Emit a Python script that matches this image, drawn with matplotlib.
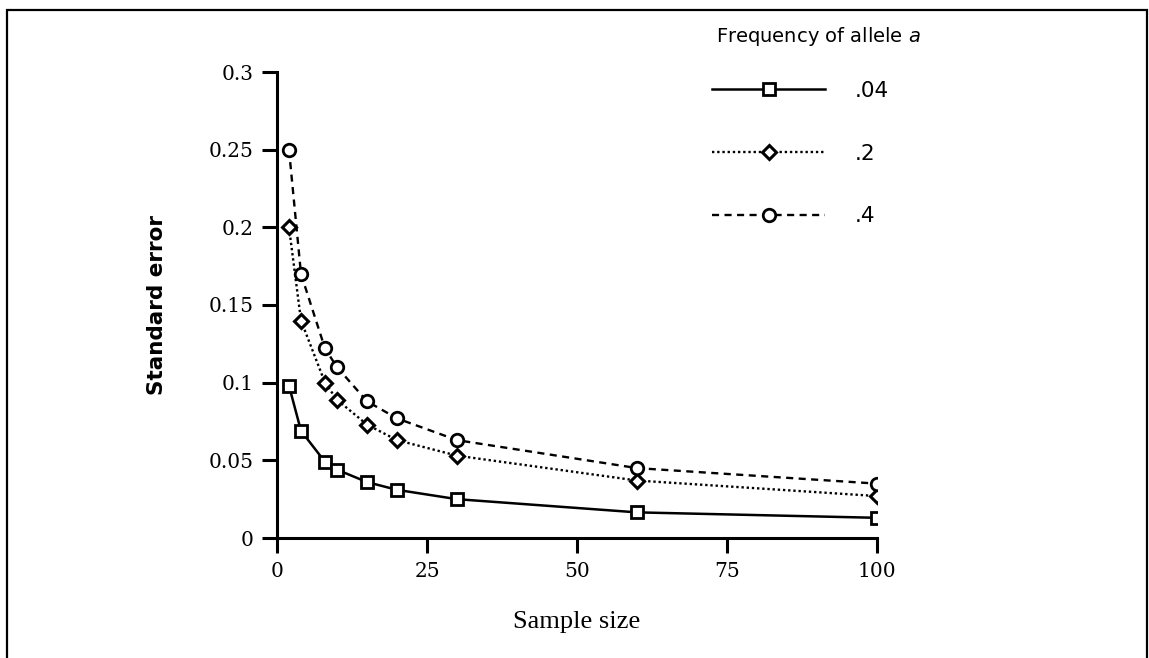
import matplotlib.pyplot as plt
from matplotlib.patches import Rectangle

sample_size = [2, 4, 8, 10, 15, 20, 30, 60, 100]
se_p04 = [0.098, 0.069, 0.049, 0.044, 0.036, 0.031, 0.025, 0.0165, 0.013]
se_p2 = [0.200, 0.140, 0.100, 0.089, 0.073, 0.063, 0.053, 0.037, 0.027]
se_p4 = [0.250, 0.170, 0.122, 0.110, 0.088, 0.077, 0.063, 0.045, 0.035]
labels = [".04", ".2", ".4"]

xticks = [0, 25, 50, 75, 100]
yticks = [0, 0.05, 0.1, 0.15, 0.2, 0.25, 0.3]
yticklabels = ["0", "0.05", "0.1", "0.15", "0.2", "0.25", "0.3"]

W, H = 1149, 658
fig = plt.figure(figsize=(W / 100, H / 100), dpi=100)
ax = fig.add_axes([277 / W, 1 - 538 / H, 600 / W, 466 / H])

# outer frame of the figure (bottom edge is cut off)
fig.patches.append(Rectangle((7 / W, -0.05), 1140 / W, 1.05 - 10 / H,
                             transform=fig.transFigure, fill=False,
                             edgecolor="black", linewidth=1.6))

ax.plot(sample_size, se_p04, color="black", linestyle="-", linewidth=1.8,
        marker="s", markersize=9, markerfacecolor="white",
        markeredgecolor="black", markeredgewidth=2.0, label=labels[0])
ax.plot(sample_size, se_p2, color="black", linestyle=(0, (1, 1.2)), linewidth=1.7,
        marker="D", markersize=7, markerfacecolor="white",
        markeredgecolor="black", markeredgewidth=2.2, label=labels[1])
ax.plot(sample_size, se_p4, color="black", linestyle=(0, (3, 2.3)), linewidth=1.7,
        marker="o", markersize=9, markerfacecolor="white",
        markeredgecolor="black", markeredgewidth=2.0, label=labels[2])

ax.set_xlim(0, 100)
ax.set_ylim(0, 0.3)
ax.set_xticks(xticks)
ax.set_yticks(yticks)
ax.set_yticklabels(yticklabels)

for side in ["top", "right"]:
    ax.spines[side].set_visible(False)
for side in ["left", "bottom"]:
    ax.spines[side].set_linewidth(2.2)
ax.tick_params(width=2.2, length=11, labelsize=14.5, pad=6)
for lbl in ax.get_xticklabels() + ax.get_yticklabels():
    lbl.set_family("DejaVu Serif")

ax.set_xlabel("Sample size", family="Liberation Serif", fontsize=19, labelpad=22)
ax.set_ylabel("Standard error", family="DejaVu Sans", fontweight="bold",
              fontsize=15.5, labelpad=30)

fig.text(716 / W, 1 - 37 / H, "Frequency of allele $\\it{a}$",
         family="DejaVu Sans", fontsize=14, ha="left", va="center")

leg = ax.legend(loc="upper left", bbox_to_anchor=(712 / W, 1 - 81 / H),
                bbox_transform=fig.transFigure, frameon=False,
                prop={"family": "DejaVu Sans", "size": 15.5},
                borderpad=0, borderaxespad=0,
                handlelength=5.25, handletextpad=1.4, labelspacing=1.98,
                numpoints=1)

plt.savefig("out.png", dpi=100)
